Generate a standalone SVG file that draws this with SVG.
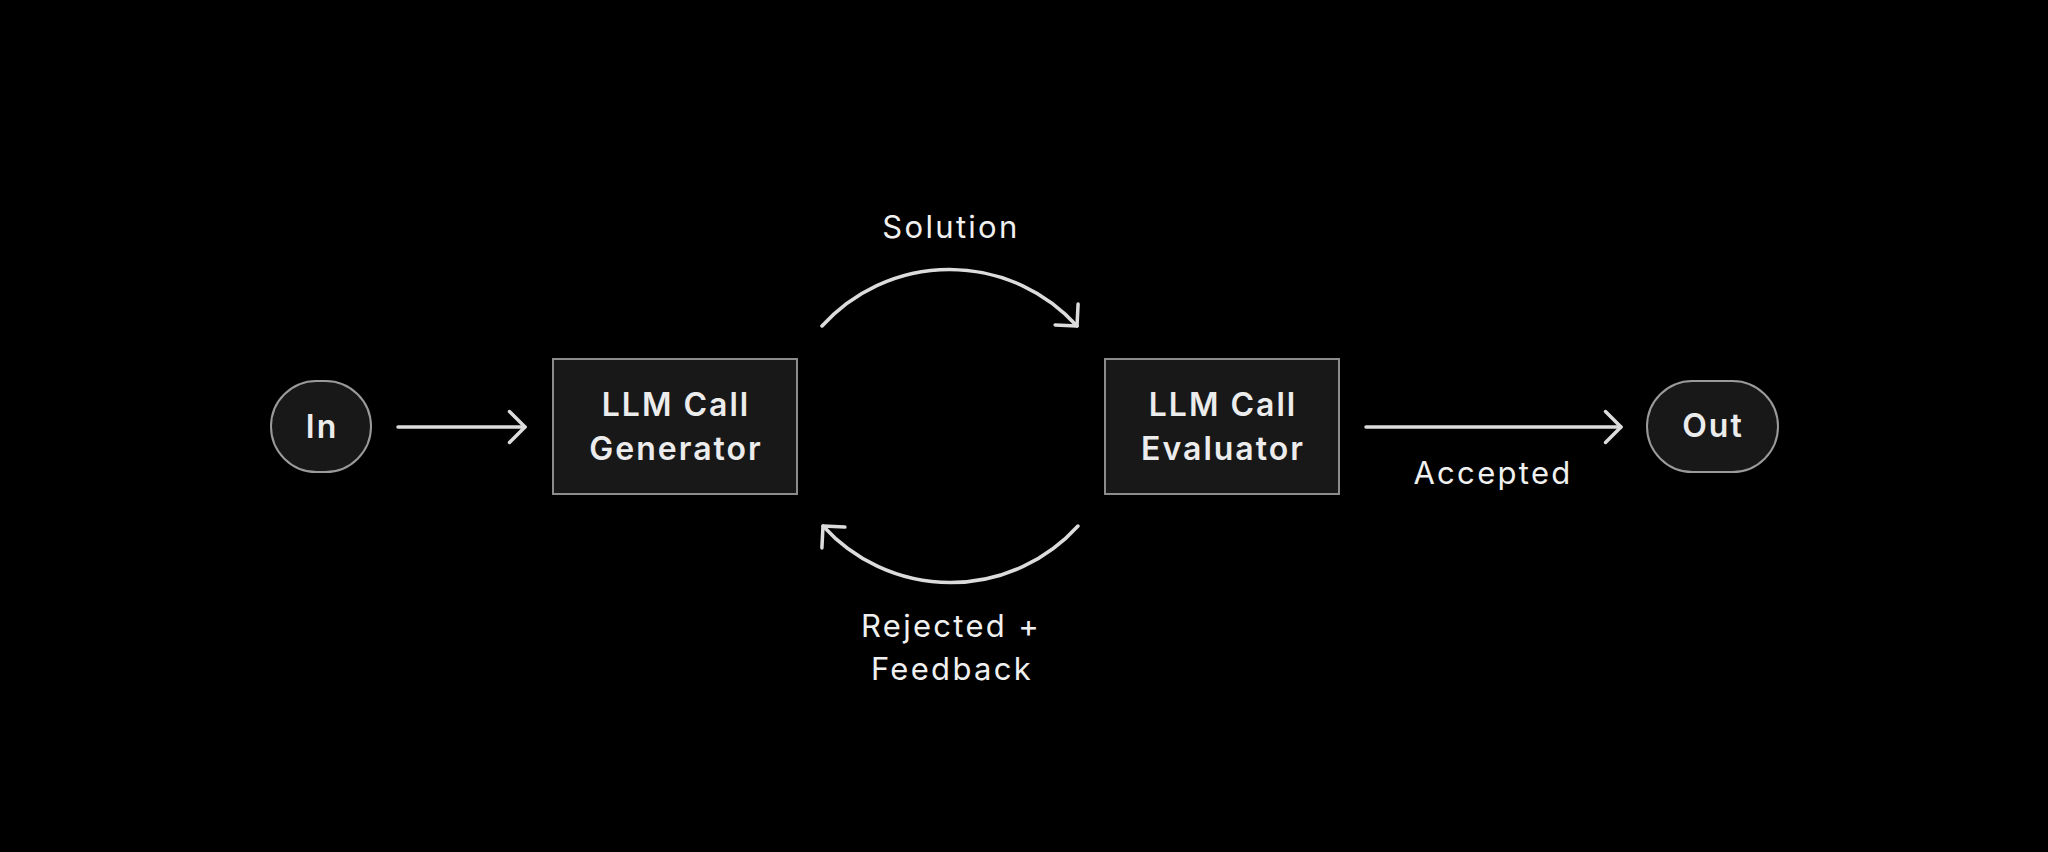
<svg xmlns="http://www.w3.org/2000/svg" width="2048" height="852" viewBox="0 0 2048 852">
<style>
.node{fill:#181818;stroke:#8c8c8c;stroke-width:2}
.pill{fill:#181818;stroke:#9a9a9a;stroke-width:2}
.nt{font-family:Inter,"Liberation Sans",sans-serif;font-weight:600;font-size:32px;fill:#ececec;text-anchor:middle;letter-spacing:2px}
.lb{font-family:Inter,"Liberation Sans",sans-serif;font-weight:400;font-size:31px;fill:#f0f0f0;text-anchor:middle;letter-spacing:2.3px}
.edge{fill:none;stroke:#dcdcdc;stroke-width:3.5;stroke-linecap:round}
</style>
<defs>
<marker id="arr" markerUnits="userSpaceOnUse" viewBox="-20 -20 24 40" markerWidth="24" markerHeight="40" refX="0" refY="0" orient="auto">
<path d="M -15.5 -15.5 L 0 0 L -15.5 15.5" fill="none" stroke="#dcdcdc" stroke-width="3.5" stroke-linecap="round" stroke-linejoin="round"/>
</marker>
</defs>
<rect width="2048" height="852" fill="#000"/>
<g id="connectors">
<path class="edge" d="M 398 427 L 525 427" marker-end="url(#arr)"/>
<path class="edge" d="M 1366 427 L 1621 427" marker-end="url(#arr)"/>
<path class="edge" d="M 822 326 A 172 172 0 0 1 1077 326" marker-end="url(#arr)"/>
<path class="edge" d="M 1078 526 A 172 172 0 0 1 823 526" marker-end="url(#arr)"/>
</g>
<g id="node-in">
<rect class="pill" x="271" y="381" width="100" height="91" rx="45.5"/>
<text class="nt" x="322" y="438">In</text>
</g>
<g id="node-generator">
<rect class="node" x="553" y="359" width="244" height="135"/>
<text class="nt" x="676" y="416">LLM Call</text>
<text class="nt" x="676" y="460">Generator</text>
</g>
<g id="node-evaluator">
<rect class="node" x="1105" y="359" width="234" height="135"/>
<text class="nt" x="1223" y="416">LLM Call</text>
<text class="nt" x="1223" y="460">Evaluator</text>
</g>
<g id="node-out">
<rect class="pill" x="1647" y="381" width="131" height="91" rx="45.5"/>
<text class="nt" x="1713" y="437">Out</text>
</g>
<g id="labels">
<text class="lb" x="951" y="238">Solution</text>
<text class="lb" x="1493" y="484">Accepted</text>
<text class="lb" x="951" y="637">Rejected +</text>
<text class="lb" x="952" y="680">Feedback</text>
</g>
</svg>
